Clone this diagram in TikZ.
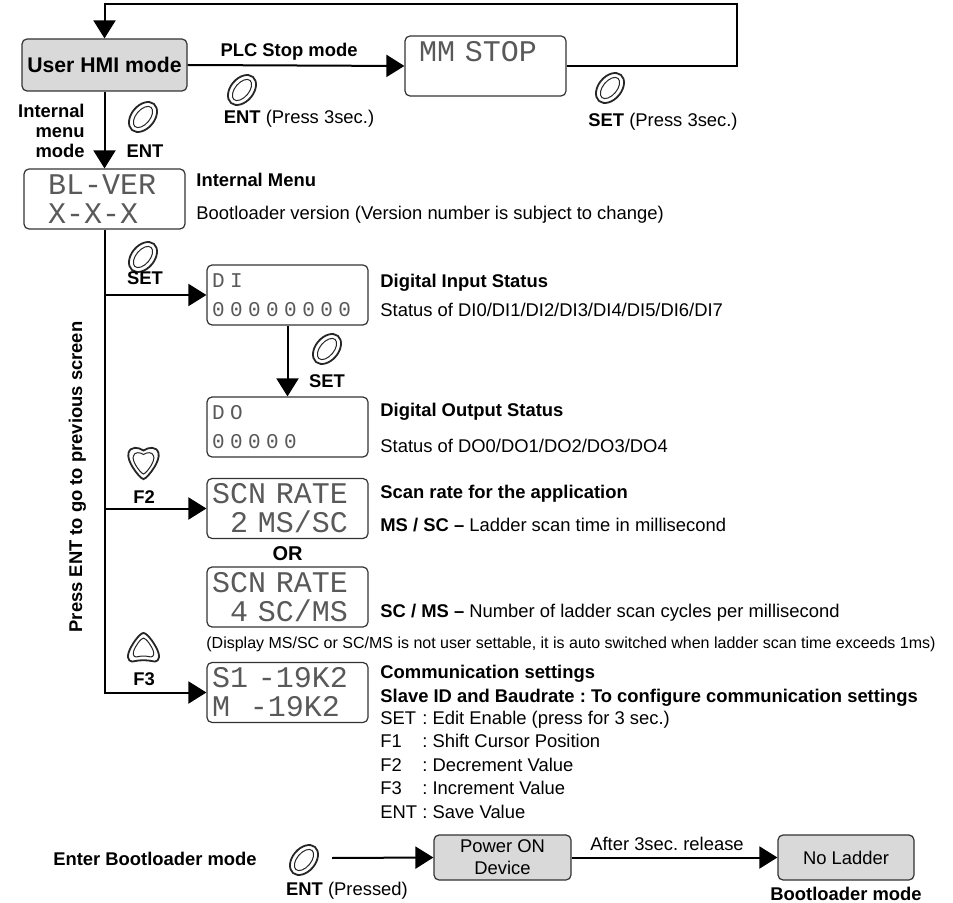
\documentclass[tikz,border=0pt]{standalone}
\usepackage{fontspec}
\setmainfont{Liberation Sans}
\newfontfamily\lcdfont{Liberation Mono}
\newfontfamily\lcdsmall[LetterSpace=26]{Liberation Mono}
\usetikzlibrary{arrows.meta}
\tikzset{
	arr/.style={line width=1pt, -{Triangle[length=9pt,width=11pt]}},
	graybox/.style={draw=black!80, line width=0.6pt, fill=black!15, rounded corners=2.5pt, inner sep=0pt},
	lcd/.style={draw=black!80, line width=0.6pt, rounded corners=2.5pt, minimum width=80.5pt, minimum height=30pt,
		inner xsep=2.5pt, inner ysep=0pt, text width=75.5pt, align=left, text=black!65,
		font=\lcdfont\fontsize{15}{14.5}\selectfont},
	keyline/.style={line width=0.9pt, draw=black!85, fill=white},
	lbl/.style={font=\bfseries, inner sep=0pt, anchor=base},
	txt/.style={inner sep=0pt, anchor=base west},
}
\def\ovalkey(#1){\draw[keyline, rotate around={50:(#1)}] (#1) ellipse (17 and 11.5);
	\draw[keyline, line width=0.5pt, rotate around={50:(#1)}] (#1) ellipse (12.5 and 7);}
\def\shieldpath{(0,-12.5) .. controls (5,-16) and (13,-17) .. (15,-10) .. controls (17,-2) and (6,12) .. (2,15)
	.. controls (1,16.5) and (-1,16.5) .. (-2,15) .. controls (-6,12) and (-17,-2) .. (-15,-10)
	.. controls (-13,-17) and (-5,-16) .. (0,-12.5) -- cycle}
\def\trianglepath{(0,-15) .. controls (4,-15) and (13,-2) .. (15,5) .. controls (17,12) and (13,15) .. (8,13)
	.. controls (4,12) and (-4,12) .. (-8,13) .. controls (-13,15) and (-17,12) .. (-15,5)
	.. controls (-13,-2) and (-4,-15) .. (0,-15) -- cycle}
\def\downkey(#1){\begin{scope}[shift={(#1)}]\draw[keyline] \shieldpath; \draw[keyline, line width=0.5pt, scale=0.68] \shieldpath;\end{scope}}
\def\upkey(#1){\begin{scope}[shift={(#1)}]\draw[keyline] \trianglepath; \draw[keyline, line width=0.5pt, scale=0.66] \trianglepath;\end{scope}}

\begin{document}
\begin{tikzpicture}[x=0.5pt,y=-0.5pt]
		%%%%% START %%%%%
		\fontsize{9.2}{11.5}\selectfont\frenchspacing
		\useasboundingbox (0,0) rectangle (953,903);

		% user HMI mode and PLC stop mode
		\node[graybox, minimum width=82.5pt, minimum height=26pt, font=\bfseries\fontsize{10.6}{12}\selectfont] (hmi) at (104.5,65) {User HMI mode};
		\node[lcd, inner xsep=7pt, text width=66.5pt] (mmstop) at (485.5,66) {MM STOP\\\mbox{}};
		\coordinate (loop) at (737,4);
		\draw[arr] (hmi.east) -- (mmstop.west);
		\draw[arr] (mmstop.east) -| (loop) -| (hmi.north);
		\node[lbl] (plcstop) at (289,57) {PLC Stop mode};
		\ovalkey(242,90)
		\node[lbl, font=\mdseries] (entlong) at (299,124) {\textbf{ENT} (Press 3sec.)};
		\ovalkey(610,88)
		\node[lbl, font=\mdseries] (setlong) at (663,127) {\textbf{SET} (Press 3sec.)};

		% internal menu
		\node[lcd, inner xsep=12pt, text width=56.5pt] (blver) at (104.5,199) {BL-VER\\X-X-X};
		\draw[arr] (hmi.south) -- (blver.north);
		\node[inner sep=0pt, anchor=east, align=right, font=\bfseries\fontsize{9.2}{10}\selectfont] (intmode) at (85,131) {Internal\\menu\\mode};
		\ovalkey(143,117)
		\node[lbl] (entkey) at (145,158) {ENT};
		\node[txt, font=\bfseries] (intmenu) at (196,187) {Internal Menu};
		\node[txt] (blverinfo) at (196,220) {Bootloader version (Version number is subject to change)};

		% screens
		\node[lcd, font=\lcdsmall\fontsize{10.5}{14.5}\selectfont] (di) at (287.5,295) {DI\\00000000};
		\node[lcd, font=\lcdsmall\fontsize{10.5}{14.5}\selectfont] (do) at (287.5,427) {DO\\00000};
		\node[lcd] (scna) at (287.5,508.5) {SCN RATE\\\phantom{0}2 MS/SC};
		\node[lcd] (scnb) at (287.5,597) {SCN RATE\\\phantom{0}4 SC/MS};
		\node[lcd] (comm) at (287.5,692.5) {S1 -19K2\\M\ \ -19K2};
		\node[lbl, font=\bfseries\fontsize{10}{12}\selectfont] (or) at (287.5,560) {OR};

		\draw[arr] (blver.south) |- (comm.west);
		\draw[arr] (blver.south |- di.west) -- (di.west);
		\draw[arr] (blver.south |- scna.west) -- (scna.west);
		\draw[arr] (di.south) -- (do.north);

		\ovalkey(143,257)
		\node[lbl] (setkey) at (145,285) {SET};
		\ovalkey(327,349)
		\node[lbl] (setkeyb) at (327,388) {SET};
		\downkey(143.5,463)
		\node[lbl] (ftwo) at (144,503) {F2};
		\upkey(143.5,648)
		\node[lbl] (fthree) at (144,685) {F3};
		\node[lbl, rotate=90] (goback) at (82,477) {Press ENT to go to previous screen};

		% descriptions
		\node[txt, font=\bfseries] (ditit) at (380,288) {Digital Input Status};
		\node[txt] (diinfo) at (380,317) {Status of DI0/DI1/DI2/DI3/DI4/DI5/DI6/DI7};
		\node[txt, font=\bfseries] (dotit) at (380,417) {Digital Output Status};
		\node[txt] (doinfo) at (380,452) {Status of DO0/DO1/DO2/DO3/DO4};
		\node[txt, font=\bfseries] (scntit) at (380,498) {Scan rate for the application};
		\node[txt] (msinfo) at (380,531) {\textbf{MS / SC –} Ladder scan time in millisecond};
		\node[txt] (scinfo) at (380,617) {\textbf{SC / MS –} Number of ladder scan cycles per millisecond};
		\node[txt, font=\fontsize{8}{9}\selectfont] (note) at (206,648) {(Display MS/SC or SC/MS is not user settable, it is auto switched when ladder scan time exceeds 1ms)};
		\node[txt, font=\bfseries] (commtit) at (380,678) {Communication settings};
		\node[txt, font=\bfseries] (commsub) at (380,702) {Slave ID and Baudrate : To configure communication settings};
		\node[txt, font=\fontsize{9.2}{11.75}\selectfont] (keys) at (380,724) {\begin{tabular}[t]{@{}l@{ }l@{}}
			SET & : Edit Enable (press for 3 sec.)\\
			F1 & : Shift Cursor Position\\
			F2 & : Decrement Value\\
			F3 & : Increment Value\\
			ENT & : Save Value
		\end{tabular}};

		% bootloader mode
		\node[lbl] (enterbl) at (155,865) {Enter Bootloader mode};
		\ovalkey(304,860)
		\coordinate (entout) at (332,858);
		\node[lbl, font=\mdseries] (entpressed) at (347,895) {\textbf{ENT} (Pressed)};
		\node[graybox, minimum width=68.5pt, minimum height=22.5pt, align=center, font=\fontsize{9.2}{11}\selectfont] (power) at (502.5,857.5) {Power ON\\Device};
		\node[graybox, minimum width=68pt, minimum height=22.5pt] (noladder) at (846,857.5) {No Ladder};
		\draw[arr] (entout) -- (power.west);
		\draw[arr] (power.east) -- (noladder.west);
		\node[lbl, font=\mdseries] (release) at (667,850) {After 3sec. release};
		\node[lbl] (blmode) at (846,900) {Bootloader mode};
		%%%%% END %%%%%
\end{tikzpicture}
\end{document}
